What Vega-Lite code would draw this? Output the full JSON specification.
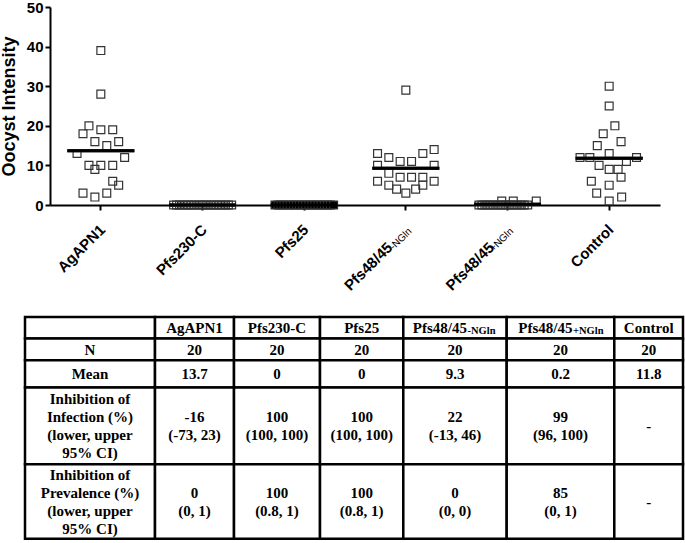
{
  "$schema": "https://vega.github.io/schema/vega-lite/v6.json",
  "background": "white",
  "padding": {"left": 0, "top": 0, "right": 0, "bottom": 0},
  "spacing": 21,
  "config": {"view": {"stroke": null}, "axis": {"grid": false, "labelOverlap": false}},
  "datasets": {
    "points": [
      {"group": "AgAPN1", "slot": 0, "value": 39}, {"group": "AgAPN1", "slot": 0, "value": 28},
      {"group": "AgAPN1", "slot": -2, "value": 20}, {"group": "AgAPN1", "slot": -3, "value": 18},
      {"group": "AgAPN1", "slot": 0, "value": 19}, {"group": "AgAPN1", "slot": 2, "value": 19},
      {"group": "AgAPN1", "slot": -1, "value": 16}, {"group": "AgAPN1", "slot": 3, "value": 16},
      {"group": "AgAPN1", "slot": 1, "value": 15}, {"group": "AgAPN1", "slot": -4, "value": 13},
      {"group": "AgAPN1", "slot": 4, "value": 12}, {"group": "AgAPN1", "slot": -2, "value": 10},
      {"group": "AgAPN1", "slot": 0, "value": 10}, {"group": "AgAPN1", "slot": 2, "value": 10},
      {"group": "AgAPN1", "slot": -1, "value": 9}, {"group": "AgAPN1", "slot": 2, "value": 6},
      {"group": "AgAPN1", "slot": 3, "value": 5}, {"group": "AgAPN1", "slot": -3, "value": 3},
      {"group": "AgAPN1", "slot": 1, "value": 3}, {"group": "AgAPN1", "slot": -1, "value": 2},
      {"group": "Pfs230-C", "slot": -4.85, "value": 0}, {"group": "Pfs230-C", "slot": -4.35, "value": 0},
      {"group": "Pfs230-C", "slot": -3.85, "value": 0}, {"group": "Pfs230-C", "slot": -3.3, "value": 0},
      {"group": "Pfs230-C", "slot": -2.8, "value": 0}, {"group": "Pfs230-C", "slot": -2.3, "value": 0},
      {"group": "Pfs230-C", "slot": -1.8, "value": 0}, {"group": "Pfs230-C", "slot": -1.3, "value": 0},
      {"group": "Pfs230-C", "slot": -0.75, "value": 0}, {"group": "Pfs230-C", "slot": -0.25, "value": 0},
      {"group": "Pfs230-C", "slot": 0.25, "value": 0}, {"group": "Pfs230-C", "slot": 0.75, "value": 0},
      {"group": "Pfs230-C", "slot": 1.3, "value": 0}, {"group": "Pfs230-C", "slot": 1.8, "value": 0},
      {"group": "Pfs230-C", "slot": 2.3, "value": 0}, {"group": "Pfs230-C", "slot": 2.8, "value": 0},
      {"group": "Pfs230-C", "slot": 3.3, "value": 0}, {"group": "Pfs230-C", "slot": 3.85, "value": 0},
      {"group": "Pfs230-C", "slot": 4.35, "value": 0}, {"group": "Pfs230-C", "slot": 4.9, "value": 0},
      {"group": "Pfs25", "slot": -4.9, "value": 0}, {"group": "Pfs25", "slot": -4.4, "value": 0},
      {"group": "Pfs25", "slot": -3.9, "value": 0}, {"group": "Pfs25", "slot": -3.4, "value": 0},
      {"group": "Pfs25", "slot": -2.85, "value": 0}, {"group": "Pfs25", "slot": -2.35, "value": 0},
      {"group": "Pfs25", "slot": -1.8, "value": 0}, {"group": "Pfs25", "slot": -1.3, "value": 0},
      {"group": "Pfs25", "slot": -0.8, "value": 0}, {"group": "Pfs25", "slot": -0.25, "value": 0},
      {"group": "Pfs25", "slot": 0.25, "value": 0}, {"group": "Pfs25", "slot": 0.8, "value": 0},
      {"group": "Pfs25", "slot": 1.3, "value": 0}, {"group": "Pfs25", "slot": 1.8, "value": 0},
      {"group": "Pfs25", "slot": 2.35, "value": 0}, {"group": "Pfs25", "slot": 2.85, "value": 0},
      {"group": "Pfs25", "slot": 3.4, "value": 0}, {"group": "Pfs25", "slot": 3.9, "value": 0},
      {"group": "Pfs25", "slot": 4.4, "value": 0}, {"group": "Pfs25", "slot": 4.95, "value": 0},
      {"group": "Pfs48/45-NGln", "slot": 0, "value": 29}, {"group": "Pfs48/45-NGln", "slot": 4.76, "value": 14},
      {"group": "Pfs48/45-NGln", "slot": -4.76, "value": 13}, {"group": "Pfs48/45-NGln", "slot": 2.86, "value": 13},
      {"group": "Pfs48/45-NGln", "slot": -2.86, "value": 12}, {"group": "Pfs48/45-NGln", "slot": -0.96, "value": 11},
      {"group": "Pfs48/45-NGln", "slot": 0.96, "value": 11}, {"group": "Pfs48/45-NGln", "slot": -4.76, "value": 10},
      {"group": "Pfs48/45-NGln", "slot": 4.76, "value": 10}, {"group": "Pfs48/45-NGln", "slot": -2.86, "value": 8},
      {"group": "Pfs48/45-NGln", "slot": -0.96, "value": 7}, {"group": "Pfs48/45-NGln", "slot": 0.96, "value": 7},
      {"group": "Pfs48/45-NGln", "slot": 2.86, "value": 7}, {"group": "Pfs48/45-NGln", "slot": -4.76, "value": 6},
      {"group": "Pfs48/45-NGln", "slot": 4.76, "value": 6}, {"group": "Pfs48/45-NGln", "slot": -2.86, "value": 5},
      {"group": "Pfs48/45-NGln", "slot": 2.86, "value": 5}, {"group": "Pfs48/45-NGln", "slot": -1.55, "value": 4},
      {"group": "Pfs48/45-NGln", "slot": 1.65, "value": 4}, {"group": "Pfs48/45-NGln", "slot": 0, "value": 3},
      {"group": "Pfs48/45+NGln", "slot": -4.8, "value": 0}, {"group": "Pfs48/45+NGln", "slot": -4.3, "value": 0},
      {"group": "Pfs48/45+NGln", "slot": -3.8, "value": 0}, {"group": "Pfs48/45+NGln", "slot": -3.3, "value": 0},
      {"group": "Pfs48/45+NGln", "slot": -2.8, "value": 0}, {"group": "Pfs48/45+NGln", "slot": -2.3, "value": 0},
      {"group": "Pfs48/45+NGln", "slot": -1.75, "value": 0}, {"group": "Pfs48/45+NGln", "slot": -1.25, "value": 0},
      {"group": "Pfs48/45+NGln", "slot": -0.75, "value": 0}, {"group": "Pfs48/45+NGln", "slot": -0.25, "value": 0},
      {"group": "Pfs48/45+NGln", "slot": 0.25, "value": 0}, {"group": "Pfs48/45+NGln", "slot": 0.75, "value": 0},
      {"group": "Pfs48/45+NGln", "slot": 1.25, "value": 0}, {"group": "Pfs48/45+NGln", "slot": 1.75, "value": 0},
      {"group": "Pfs48/45+NGln", "slot": 2.3, "value": 0}, {"group": "Pfs48/45+NGln", "slot": 2.8, "value": 0},
      {"group": "Pfs48/45+NGln", "slot": 3.4, "value": 0}, {"group": "Pfs48/45+NGln", "slot": -0.97, "value": 1},
      {"group": "Pfs48/45+NGln", "slot": 0.97, "value": 1}, {"group": "Pfs48/45+NGln", "slot": 4.84, "value": 1},
      {"group": "Control", "slot": 0, "value": 30}, {"group": "Control", "slot": 0, "value": 25},
      {"group": "Control", "slot": 0.96, "value": 20}, {"group": "Control", "slot": -1, "value": 18},
      {"group": "Control", "slot": 2, "value": 16}, {"group": "Control", "slot": -2, "value": 15},
      {"group": "Control", "slot": 0, "value": 13}, {"group": "Control", "slot": -4.9, "value": 12},
      {"group": "Control", "slot": -3.25, "value": 12}, {"group": "Control", "slot": 4.6, "value": 12},
      {"group": "Control", "slot": -1.7, "value": 10}, {"group": "Control", "slot": 2.9, "value": 11},
      {"group": "Control", "slot": 0, "value": 9}, {"group": "Control", "slot": 1.5, "value": 9},
      {"group": "Control", "slot": 2, "value": 7}, {"group": "Control", "slot": -3, "value": 6},
      {"group": "Control", "slot": 0, "value": 5}, {"group": "Control", "slot": -2.1, "value": 3},
      {"group": "Control", "slot": 2.1, "value": 2}, {"group": "Control", "slot": 0, "value": 1}
    ],
    "means": [
      {"group": "AgAPN1", "mean": 13.7}, {"group": "Pfs230-C", "mean": 0}, {"group": "Pfs25", "mean": 0},
      {"group": "Pfs48/45-NGln", "mean": 9.3}, {"group": "Pfs48/45+NGln", "mean": 0.2}, {"group": "Control", "mean": 11.8}
    ],
    "labels": [
      {"group": "AgAPN1", "main": "AgAPN1", "base": 0}, {"group": "Pfs230-C", "main": "Pfs230-C", "base": 0}, {"group": "Pfs25", "main": "Pfs25", "base": 0},
      {"group": "Pfs48/45-NGln", "main": "Pfs48/45", "sub": "-NGln", "base": 0}, {"group": "Pfs48/45+NGln", "main": "Pfs48/45", "sub": "+NGln", "base": 0},
      {"group": "Control", "main": "Control", "base": 0}
    ],
    "tcols": [
      {"c": 0, "left": 0, "right": 130, "mid": 65}, {"c": 1, "left": 130, "right": 209, "mid": 169.5},
      {"c": 2, "left": 209, "right": 295, "mid": 252}, {"c": 3, "left": 295, "right": 378.3, "mid": 336.7},
      {"c": 4, "left": 378.3, "right": 481.7, "mid": 430}, {"c": 5, "left": 481.7, "right": 589.3, "mid": 535.5},
      {"c": 6, "left": 589.3, "right": 658, "mid": 623.7}
    ],
    "trows": [
      {"r": 0, "top": 0, "bottom": 21.6, "mid": 10.8}, {"r": 1, "top": 21.6, "bottom": 43.3, "mid": 32.5},
      {"r": 2, "top": 43.3, "bottom": 70.6, "mid": 57}, {"r": 3, "top": 70.6, "bottom": 147.3, "mid": 109},
      {"r": 4, "top": 147.3, "bottom": 221.8, "mid": 184.6}
    ],
    "cells": [
      {"r": 0, "c": 0, "t": "", "lines": 1}, {"r": 0, "c": 1, "t": "AgAPN1", "lines": 1}, {"r": 0, "c": 2, "t": "Pfs230-C", "lines": 1}, {"r": 0, "c": 3, "t": "Pfs25", "lines": 1},
      {"r": 0, "c": 4, "t": "Pfs48/45", "s": "-NGln", "lines": 1}, {"r": 0, "c": 5, "t": "Pfs48/45", "s": "+NGln", "lines": 1}, {"r": 0, "c": 6, "t": "Control", "lines": 1},
      {"r": 1, "c": 0, "t": "N", "lines": 1}, {"r": 1, "c": 1, "t": "20", "lines": 1}, {"r": 1, "c": 2, "t": "20", "lines": 1}, {"r": 1, "c": 3, "t": "20", "lines": 1},
      {"r": 1, "c": 4, "t": "20", "lines": 1}, {"r": 1, "c": 5, "t": "20", "lines": 1}, {"r": 1, "c": 6, "t": "20", "lines": 1},
      {"r": 2, "c": 0, "t": "Mean", "lines": 1}, {"r": 2, "c": 1, "t": "13.7", "lines": 1}, {"r": 2, "c": 2, "t": "0", "lines": 1}, {"r": 2, "c": 3, "t": "0", "lines": 1},
      {"r": 2, "c": 4, "t": "9.3", "lines": 1}, {"r": 2, "c": 5, "t": "0.2", "lines": 1}, {"r": 2, "c": 6, "t": "11.8", "lines": 1},
      {"r": 3, "c": 0, "t": "Inhibition of\nInfection (%)\n(lower, upper\n95% CI)", "lines": 4}, {"r": 3, "c": 1, "t": "-16\n(-73, 23)", "lines": 2},
      {"r": 3, "c": 2, "t": "100\n(100, 100)", "lines": 2}, {"r": 3, "c": 3, "t": "100\n(100, 100)", "lines": 2}, {"r": 3, "c": 4, "t": "22\n(-13, 46)", "lines": 2},
      {"r": 3, "c": 5, "t": "99\n(96, 100)", "lines": 2}, {"r": 3, "c": 6, "t": "-", "lines": 1},
      {"r": 4, "c": 0, "t": "Inhibition of\nPrevalence (%)\n(lower, upper\n95% CI)", "lines": 4}, {"r": 4, "c": 1, "t": "0\n(0, 1)", "lines": 2},
      {"r": 4, "c": 2, "t": "100\n(0.8, 1)", "lines": 2}, {"r": 4, "c": 3, "t": "100\n(0.8, 1)", "lines": 2}, {"r": 4, "c": 4, "t": "0\n(0, 0)", "lines": 2},
      {"r": 4, "c": 5, "t": "85\n(0, 1)", "lines": 2}, {"r": 4, "c": 6, "t": "-", "lines": 1}
    ]
  },
  "vconcat": [
    {
      "width": 610,
      "height": 198,
      "layer": [
        {
          "data": {"name": "means"},
          "mark": {"type": "tick", "color": "black", "thickness": 3, "size": 67, "orient": "horizontal", "opacity": 1},
          "encoding": {
            "x": {
              "field": "group", "type": "nominal", "sort": null,
              "scale": {"type": "band", "domain": ["AgAPN1", "Pfs230-C", "Pfs25", "Pfs48/45-NGln", "Pfs48/45+NGln", "Control"], "paddingInner": 0, "paddingOuter": 0},
              "axis": {"title": null, "labels": false, "ticks": true, "tickSize": 5, "tickWidth": 2, "tickColor": "black", "domainColor": "black", "domainWidth": 2}
            },
            "y": {
              "field": "mean", "type": "quantitative",
              "scale": {"domain": [0, 50], "nice": false},
              "axis": {
                "values": [0, 10, 20, 30, 40, 50], "tickCount": 6, "title": "Oocyst Intensity",
                "titleFont": "Liberation Sans", "titleFontSize": 18, "titleFontWeight": "bold", "titleColor": "black", "titlePadding": 8,
                "labelFont": "Liberation Sans", "labelFontSize": 15, "labelFontWeight": "bold", "labelColor": "black", "labelPadding": 2,
                "labelFlush": false, "labelOverlap": false,
                "tickSize": 5, "tickWidth": 2, "tickColor": "black", "domainColor": "black", "domainWidth": 2
              }
            }
          }
        },
        {
          "data": {"name": "points"},
          "mark": {"type": "point", "shape": "square", "size": 62, "filled": true, "stroke": "#333333", "strokeWidth": 1.2, "opacity": 1},
          "encoding": {
            "x": {"field": "group", "type": "nominal", "sort": null},
            "xOffset": {"field": "slot", "type": "quantitative", "scale": {"domain": [-8.55, 8.55], "nice": false, "zero": false}},
            "y": {"field": "value", "type": "quantitative"},
            "fill": {"condition": {"test": "datum.group === 'Pfs25'", "value": "black"}, "value": "transparent"}
          }
        },
        {
          "data": {"name": "means"},
          "mark": {"type": "tick", "color": "black", "thickness": 3, "size": 67, "orient": "horizontal", "opacity": 1},
          "encoding": {
            "x": {"field": "group", "type": "nominal", "sort": null},
            "y": {"field": "mean", "type": "quantitative"}
          }
        },
        {
          "data": {"name": "labels"},
          "transform": [{"filter": "datum.sub == null"}],
          "mark": {"type": "text", "angle": 315, "align": "right", "baseline": "alphabetic", "dx": -14.5, "dy": 22, "font": "Liberation Sans", "fontSize": 15, "fontWeight": "bold", "color": "black"},
          "encoding": {
            "x": {"field": "group", "type": "nominal", "sort": null},
            "y": {"field": "base", "type": "quantitative"},
            "text": {"field": "main"}
          }
        },
        {
          "data": {"name": "labels"},
          "transform": [{"filter": "datum.sub != null"}],
          "mark": {"type": "text", "angle": 315, "align": "right", "baseline": "alphabetic", "dx": -39.5, "dy": 22, "font": "Liberation Sans", "fontSize": 15, "fontWeight": "bold", "color": "black"},
          "encoding": {
            "x": {"field": "group", "type": "nominal", "sort": null},
            "y": {"field": "base", "type": "quantitative"},
            "text": {"field": "main"}
          }
        },
        {
          "data": {"name": "labels"},
          "transform": [{"filter": "datum.sub != null"}],
          "mark": {"type": "text", "angle": 315, "align": "right", "baseline": "alphabetic", "dx": -14.5, "dy": 23.5, "font": "Liberation Sans", "fontSize": 10, "fontWeight": "normal", "color": "black"},
          "encoding": {
            "x": {"field": "group", "type": "nominal", "sort": null},
            "y": {"field": "base", "type": "quantitative"},
            "text": {"field": "sub"}
          }
        }
      ]
    },
    {
      "width": 610,
      "height": 222,
      "data": {"name": "cells"},
      "transform": [
        {"lookup": "c", "from": {"data": {"name": "tcols"}, "key": "c", "fields": ["left", "right", "mid"]}, "as": ["left", "right", "xm"]},
        {"lookup": "r", "from": {"data": {"name": "trows"}, "key": "r", "fields": ["top", "bottom", "mid"]}, "as": ["top", "bottom", "ym"]}
      ],
      "layer": [
        {
          "mark": {"type": "rect", "fill": "white", "stroke": "black", "strokeWidth": 2.5},
          "encoding": {
            "x": {"field": "left", "type": "quantitative", "scale": {"domain": [0, 658], "range": [-25, 633], "nice": false, "zero": false}, "axis": null},
            "x2": {"field": "right"},
            "y": {"field": "top", "type": "quantitative", "scale": {"domain": [0, 221.8], "range": [0, 221.8], "nice": false, "zero": false}, "axis": null},
            "y2": {"field": "bottom"}
          }
        },
        {
          "transform": [{"filter": "datum.s == null && datum.lines == 1"}],
          "mark": {"type": "text", "align": "center", "baseline": "middle", "font": "Liberation Serif", "fontSize": 15, "fontWeight": "bold", "color": "black"},
          "encoding": {
            "x": {"field": "xm", "type": "quantitative"},
            "y": {"field": "ym", "type": "quantitative"},
            "text": {"field": "t"}
          }
        },
        {
          "transform": [{"filter": "datum.lines == 2"}],
          "mark": {"type": "text", "align": "center", "baseline": "middle", "dy": -9, "lineBreak": "\n", "lineHeight": 18, "font": "Liberation Serif", "fontSize": 15, "fontWeight": "bold", "color": "black"},
          "encoding": {
            "x": {"field": "xm", "type": "quantitative"},
            "y": {"field": "ym", "type": "quantitative"},
            "text": {"field": "t"}
          }
        },
        {
          "transform": [{"filter": "datum.lines == 4"}],
          "mark": {"type": "text", "align": "center", "baseline": "middle", "dy": -27, "lineBreak": "\n", "lineHeight": 18, "font": "Liberation Serif", "fontSize": 15, "fontWeight": "bold", "color": "black"},
          "encoding": {
            "x": {"field": "xm", "type": "quantitative"},
            "y": {"field": "ym", "type": "quantitative"},
            "text": {"field": "t"}
          }
        },
        {
          "transform": [{"filter": "datum.s != null"}],
          "mark": {"type": "text", "align": "right", "baseline": "alphabetic", "dx": 12, "dy": 5, "font": "Liberation Serif", "fontSize": 15, "fontWeight": "bold", "color": "black"},
          "encoding": {
            "x": {"field": "xm", "type": "quantitative"},
            "y": {"field": "ym", "type": "quantitative"},
            "text": {"field": "t"}
          }
        },
        {
          "transform": [{"filter": "datum.s != null"}],
          "mark": {"type": "text", "align": "left", "baseline": "alphabetic", "dx": 12.5, "dy": 6, "font": "Liberation Serif", "fontSize": 10.5, "fontWeight": "bold", "color": "black"},
          "encoding": {
            "x": {"field": "xm", "type": "quantitative"},
            "y": {"field": "ym", "type": "quantitative"},
            "text": {"field": "s"}
          }
        }
      ]
    }
  ]
}
